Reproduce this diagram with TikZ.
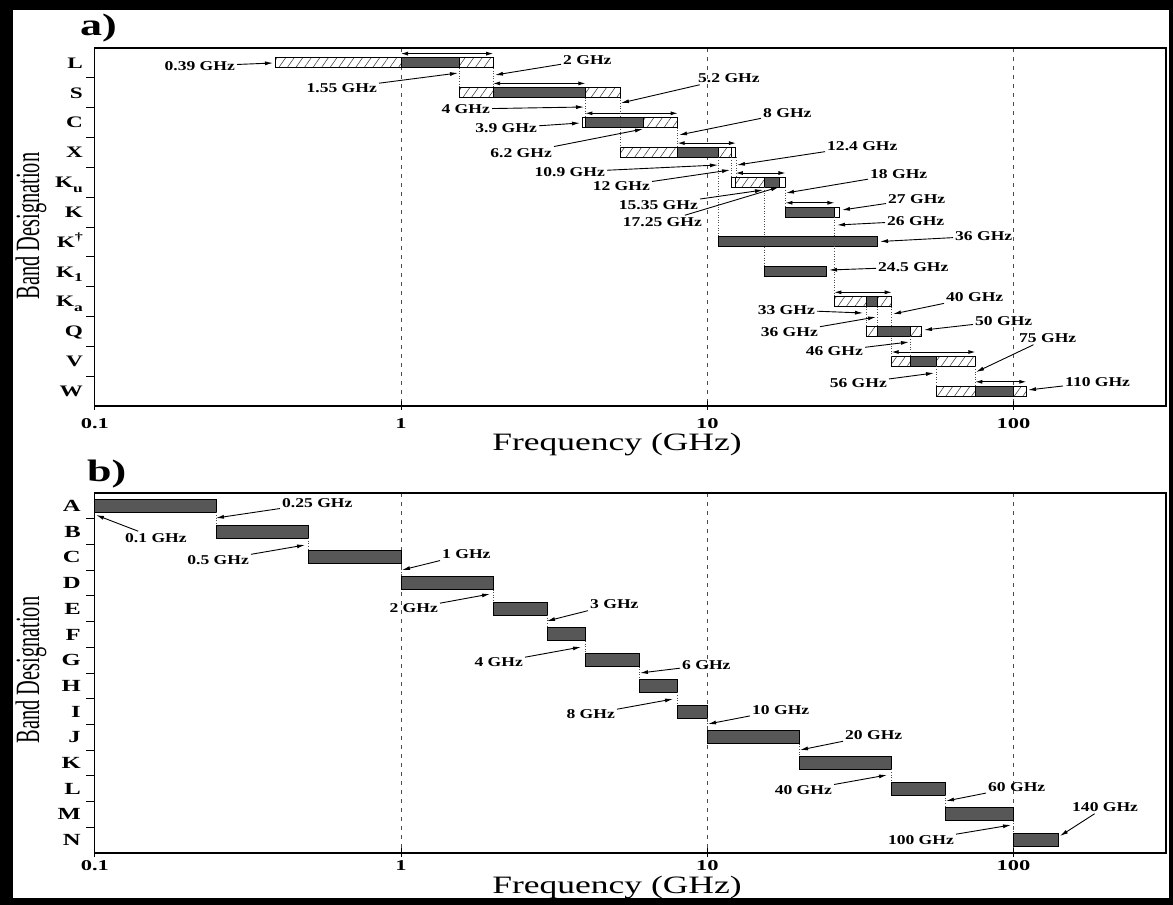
\documentclass[tikz,border=0pt]{standalone}
\usepackage{fontspec}
\setmainfont{Liberation Serif}
\newfontfamily\lblfont[FakeStretch=1.3]{Liberation Serif}
\newfontfamily\bandfont[FakeStretch=1.45]{Liberation Serif}
\newfontfamily\tickfont[FakeStretch=1.5]{Liberation Serif}
\newfontfamily\axfont[FakeStretch=1.42]{Liberation Serif}
\newfontfamily\desfont[FakeStretch=0.6]{Liberation Serif}
\usetikzlibrary{arrows.meta,patterns.meta}

\newcommand{\fq}[1]{401+306.3*log10(#1)}
\newcommand{\lsub}[1]{\raisebox{-0.3em}{\fontsize{12}{12}\selectfont #1}}
\newcommand{\lsup}[1]{\raisebox{0.45em}{\fontsize{11}{11}\selectfont #1}}

\tikzset{
  hatch/.style={draw=black, line width=1pt, pattern={Lines[angle=55,distance=7pt,line width=0.55pt]}, pattern color=black!75},
  dark/.style={draw=black, line width=1pt, fill=black!66},
  plain/.style={draw=black, line width=1pt, fill=white},
  span/.style={line width=0.9pt, {Latex[length=7pt,width=4pt]}-{Latex[length=7pt,width=4pt]}},
  link/.style={dotted, line width=0.6pt, black!70},
  gridline/.style={dash pattern=on 4pt off 5pt, line width=0.8pt, black!70},
  ptr/.style={line width=0.9pt, -{Latex[length=8pt,width=4pt]}},
  gl/.style={font=\lblfont\bfseries\fontsize{13.5}{14}\selectfont, inner sep=2pt},
  banda/.style={font=\bandfont\bfseries\fontsize{16}{17}\selectfont, inner sep=0pt, anchor=base east},
  bandb/.style={font=\bandfont\bfseries\fontsize{17}{18}\selectfont, inner sep=0pt, anchor=base east},
  ticklbl/.style={font=\tickfont\bfseries\fontsize{15}{16}\selectfont, inner sep=0pt, anchor=base},
  axlbl/.style={font=\axfont\fontsize{25}{26}\selectfont, inner sep=0pt, anchor=base},
  deslbl/.style={font=\desfont\fontsize{34}{36}\selectfont, inner sep=0pt, rotate=90},
  panel/.style={font=\axfont\bfseries\fontsize{31}{33}\selectfont, inner sep=0pt, anchor=base west}
}

\begin{document}
\begin{tikzpicture}[x=1pt,y=-1pt]
            \useasboundingbox (0,0) rectangle (1173,905);
            \fill[black] (0,0) rectangle (1173,905);
            \fill[white] (13,10) rectangle (1169,898);

            % panel a
            \foreach \f in {1,10,100} {
              \draw[gridline] ({\fq{\f}},48) -- ({\fq{\f}},406);
              \draw[line width=0.8pt] ({\fq{\f}},401) -- ({\fq{\f}},410);
            }
            \draw[line width=0.8pt] ({\fq{0.1}},406) -- ({\fq{0.1}},410);
            \foreach \y in {77.8,107.7,137.5,167.3,197.2,227.0,256.8,286.6,316.5,346.3,376.1}
              \draw[line width=0.8pt] (86,\y) -- ({\fq{0.1}},\y);
            \draw[line width=1.2pt] ({\fq{0.1}},48) rectangle (1166,406);

            \draw[hatch] ({\fq{0.39}},57.9) rectangle ({\fq{1}},67.9);
            \draw[dark] ({\fq{1}},57.9) rectangle ({\fq{1.55}},67.9);
            \draw[hatch] ({\fq{1.55}},57.9) rectangle ({\fq{2}},67.9);

            \draw[hatch] ({\fq{1.55}},87.7) rectangle ({\fq{2}},97.7);
            \draw[dark] ({\fq{2}},87.7) rectangle ({\fq{4}},97.7);
            \draw[hatch] ({\fq{4}},87.7) rectangle ({\fq{5.2}},97.7);

            \draw[plain] ({\fq{3.9}},117.6) rectangle ({\fq{4}},127.6);
            \draw[dark] ({\fq{4}},117.6) rectangle ({\fq{6.2}},127.6);
            \draw[hatch] ({\fq{6.2}},117.6) rectangle ({\fq{8}},127.6);

            \draw[hatch] ({\fq{5.2}},147.4) rectangle ({\fq{8}},157.4);
            \draw[dark] ({\fq{8}},147.4) rectangle ({\fq{10.9}},157.4);
            \draw[hatch] ({\fq{10.9}},147.4) rectangle ({\fq{12}},157.4);
            \draw[plain] ({\fq{12}},147.4) rectangle ({\fq{12.4}},157.4);

            \draw[plain] ({\fq{12}},177.3) rectangle ({\fq{12.4}},187.3);
            \draw[hatch] ({\fq{12.4}},177.3) rectangle ({\fq{15.35}},187.3);
            \draw[dark] ({\fq{15.35}},177.3) rectangle ({\fq{17.25}},187.3);
            \draw[plain] ({\fq{17.25}},177.3) rectangle ({\fq{18}},187.3);

            \draw[dark] ({\fq{18}},207.1) rectangle ({\fq{26}},217.1);
            \draw[plain] ({\fq{26}},207.1) rectangle ({\fq{27}},217.1);

            \draw[dark] ({\fq{10.9}},236.9) rectangle ({\fq{36}},246.9);

            \draw[dark] ({\fq{15.35}},266.8) rectangle ({\fq{24.5}},276.8);

            \draw[hatch] ({\fq{26}},296.6) rectangle ({\fq{33}},306.6);
            \draw[dark] ({\fq{33}},296.6) rectangle ({\fq{36}},306.6);
            \draw[hatch] ({\fq{36}},296.6) rectangle ({\fq{40}},306.6);

            \draw[hatch] ({\fq{33}},326.4) rectangle ({\fq{36}},336.4);
            \draw[dark] ({\fq{36}},326.4) rectangle ({\fq{46}},336.4);
            \draw[hatch] ({\fq{46}},326.4) rectangle ({\fq{50}},336.4);

            \draw[hatch] ({\fq{40}},356.3) rectangle ({\fq{46}},366.3);
            \draw[dark] ({\fq{46}},356.3) rectangle ({\fq{56}},366.3);
            \draw[hatch] ({\fq{56}},356.3) rectangle ({\fq{75}},366.3);

            \draw[hatch] ({\fq{56}},386.1) rectangle ({\fq{75}},396.1);
            \draw[dark] ({\fq{75}},386.1) rectangle ({\fq{100}},396.1);
            \draw[hatch] ({\fq{100}},386.1) rectangle ({\fq{110}},396.1);

            \draw[span] ({\fq{1}},53.6) -- ({\fq{2}},53.6);
            \draw[span] ({\fq{2}},83.4) -- ({\fq{4}},83.4);
            \draw[span] ({\fq{4}},113.3) -- ({\fq{8}},113.3);
            \draw[span] ({\fq{8}},143.1) -- ({\fq{12.4}},143.1);
            \draw[span] ({\fq{12.4}},173) -- ({\fq{18}},173);
            \draw[span] ({\fq{18}},202.8) -- ({\fq{26}},202.8);
            \draw[span] ({\fq{26}},292.3) -- ({\fq{40}},292.3);
            \draw[span] ({\fq{40}},352) -- ({\fq{75}},352);
            \draw[span] ({\fq{75}},381.8) -- ({\fq{110}},381.8);

            \foreach \f/\ya/\yb in {1.55/67.9/87.7, 2/67.9/87.7, 4/97.7/117.6, 5.2/97.7/147.4,
                8/127.6/147.4, 10.9/157.4/236.9, 12/157.4/177.3, 12.4/157.4/177.3,
                15.35/187.3/266.8, 18/187.3/207.1, 26/217.1/296.6, 33/306.6/326.4,
                36/306.6/326.4, 40/306.6/356.3, 46/336.4/356.3, 56/366.3/386.1, 75/366.3/386.1}
              \draw[link] ({\fq{\f}},\ya) -- ({\fq{\f}},\yb);

            \node[banda] (nL) at (83,68.2) {L};
            \node[banda] (nS) at (83,98.0) {S};
            \node[banda] (nC) at (83,127.9) {C};
            \node[banda] (nX) at (83,157.7) {X};
            \node[banda] (nKu) at (83,187.6) {K\lsub{u}};
            \node[banda] (nK) at (83,217.4) {K};
            \node[banda] (nKd) at (83,247.2) {K\lsup{\textdagger}};
            \node[banda] (nKl) at (83,277.1) {K\lsub{1}};
            \node[banda] (nKa) at (83,306.9) {K\lsub{a}};
            \node[banda] (nQ) at (83,336.7) {Q};
            \node[banda] (nV) at (83,366.6) {V};
            \node[banda] (nW) at (83,396.4) {W};

            \node[gl, anchor=east] (a1) at (237,66) {0.39 GHz};
            \node[gl, anchor=west] (a2) at (561,60) {2 GHz};
            \node[gl, anchor=east] (a3) at (379,88) {1.55 GHz};
            \node[gl, anchor=west] (a4) at (696,78) {5.2 GHz};
            \node[gl, anchor=east] (a5) at (492,109) {4 GHz};
            \node[gl, anchor=east] (a6) at (539,128) {3.9 GHz};
            \node[gl, anchor=west] (a7) at (761,113) {8 GHz};
            \node[gl, anchor=east] (a8) at (554,153) {6.2 GHz};
            \node[gl, anchor=west] (a9) at (825,146) {12.4 GHz};
            \node[gl, anchor=east] (a10) at (607,172) {10.9 GHz};
            \node[gl, anchor=east] (a11) at (652,186) {12 GHz};
            \node[gl, anchor=west] (a12) at (868,174) {18 GHz};
            \node[gl, anchor=east] (a13) at (700,205) {15.35 GHz};
            \node[gl, anchor=east] (a14) at (704,222) {17.25 GHz};
            \node[gl, anchor=west] (a15) at (886,199) {27 GHz};
            \node[gl, anchor=west] (a16) at (885,221) {26 GHz};
            \node[gl, anchor=west] (a17) at (953,236) {36 GHz};
            \node[gl, anchor=west] (a18) at (876,267) {24.5 GHz};
            \node[gl, anchor=east] (a19) at (817,310) {33 GHz};
            \node[gl, anchor=west] (a20) at (944,297) {40 GHz};
            \node[gl, anchor=east] (a21) at (820,332) {36 GHz};
            \node[gl, anchor=west] (a22) at (973,321) {50 GHz};
            \node[gl, anchor=east] (a23) at (865,351) {46 GHz};
            \node[gl, anchor=west] (a24) at (1017,338) {75 GHz};
            \node[gl, anchor=east] (a25) at (889,383) {56 GHz};
            \node[gl, anchor=west] (a26) at (1063,382) {110 GHz};

            \coordinate (ta1) at (273,63);
            \coordinate (ta2) at (495,75);
            \coordinate (ta3) at (458,73);
            \coordinate (ta4) at (621,103);
            \coordinate (ta5) at (584,107);
            \coordinate (ta6) at (580,123);
            \coordinate (ta7) at (679,135);
            \coordinate (ta8) at (643,129);
            \coordinate (ta9) at (737,165);
            \coordinate (ta10) at (718,165);
            \coordinate (ta11) at (730,170);
            \coordinate (ta12) at (786,193);
            \coordinate (ta13) at (763,190);
            \coordinate (ta14) at (779,187);
            \coordinate (ta15) at (842,210);
            \coordinate (ta16) at (837,225);
            \coordinate (ta17) at (880,241.5);
            \coordinate (ta18) at (829,270);
            \coordinate (ta19) at (863,313);
            \coordinate (ta20) at (893,314);
            \coordinate (ta21) at (876,317);
            \coordinate (ta22) at (924,330);
            \coordinate (ta23) at (909,342);
            \coordinate (ta24) at (976,372);
            \coordinate (ta25) at (934,373);
            \coordinate (ta26) at (1028,390);

            \foreach \i in {1,...,26}
              \draw[ptr] (a\i) -- (ta\i);

            \node[ticklbl] (xa0) at ({\fq{0.1}},428) {0.1};
            \node[ticklbl] (xa1) at ({\fq{1}},428) {1};
            \node[ticklbl] (xa2) at ({\fq{10}},428) {10};
            \node[ticklbl] (xa3) at ({\fq{100}},428) {100};
            \node[axlbl] (fa) at (617,450) {Frequency (GHz)};
            \node[deslbl] (da) at (31,226) {Band Designation};
            \node[panel] (pa) at (80,35) {a)};

            % panel b
            \foreach \f in {1,10,100} {
              \draw[gridline] ({\fq{\f}},493) -- ({\fq{\f}},853);
              \draw[line width=0.8pt] ({\fq{\f}},848) -- ({\fq{\f}},857);
            }
            \draw[line width=0.8pt] ({\fq{0.1}},853) -- ({\fq{0.1}},857);
            \foreach \y in {518.7,544.4,570.1,595.8,621.6,647.3,673.0,698.7,724.4,750.1,775.8,801.5,827.2}
              \draw[line width=0.8pt] (86,\y) -- ({\fq{0.1}},\y);
            \draw[line width=1.2pt] ({\fq{0.1}},493) rectangle (1166,853);

            \foreach \fa/\fb/\yt in {0.1/0.25/499.4, 0.25/0.5/525.1, 0.5/1/550.8, 1/2/576.5, 2/3/602.2,
                3/4/627.9, 4/6/653.6, 6/8/679.3, 8/10/705, 10/20/730.7, 20/40/756.4, 40/60/782.1,
                60/100/807.8, 100/140/833.5}
              \draw[dark] ({\fq{\fa}},\yt) rectangle ({\fq{\fb}},\yt+13);

            \foreach \f/\yt in {0.25/512.4, 0.5/538.1, 1/563.8, 2/589.5, 3/615.2, 4/640.9, 6/666.6,
                8/692.3, 10/718, 20/743.7, 40/769.4, 60/795.1, 100/820.8}
              \draw[link] ({\fq{\f}},\yt) -- ({\fq{\f}},\yt+12.7);

            \foreach \b [count=\i] in {A,B,C,D,E,F,G,H,I,J,K,L,M,N}
              \node[bandb] (nb\i) at (81,{493+25.71*(\i-0.5)+5.6}) {\b};

            \node[gl, anchor=west] (b1) at (123,538) {0.1 GHz};
            \node[gl, anchor=west] (b2) at (280,503) {0.25 GHz};
            \node[gl, anchor=east] (b3) at (251,560) {0.5 GHz};
            \node[gl, anchor=west] (b4) at (440,554) {1 GHz};
            \node[gl, anchor=east] (b5) at (440,608) {2 GHz};
            \node[gl, anchor=west] (b6) at (588,604) {3 GHz};
            \node[gl, anchor=east] (b7) at (525,662) {4 GHz};
            \node[gl, anchor=west] (b8) at (680,665) {6 GHz};
            \node[gl, anchor=east] (b9) at (617,714) {8 GHz};
            \node[gl, anchor=west] (b10) at (750,710) {10 GHz};
            \node[gl, anchor=west] (b11) at (843,735) {20 GHz};
            \node[gl, anchor=east] (b12) at (834,790) {40 GHz};
            \node[gl, anchor=west] (b13) at (986,787) {60 GHz};
            \node[gl, anchor=east] (b14) at (956,840) {100 GHz};
            \node[gl, anchor=west] (b15) at (1070,807) {140 GHz};

            \coordinate (tb1) at (96,515);
            \coordinate (tb2) at (216,518);
            \coordinate (tb3) at (305,545);
            \coordinate (tb4) at (402,570);
            \coordinate (tb5) at (490,594);
            \coordinate (tb6) at (547,621);
            \coordinate (tb7) at (581,647);
            \coordinate (tb8) at (640,673);
            \coordinate (tb9) at (673,699);
            \coordinate (tb10) at (708,724);
            \coordinate (tb11) at (800,750);
            \coordinate (tb12) at (887,775);
            \coordinate (tb13) at (946,801);
            \coordinate (tb14) at (1011,825);
            \coordinate (tb15) at (1060,836);

            \foreach \i in {1,...,15}
              \draw[ptr] (b\i) -- (tb\i);

            \node[ticklbl] (xb0) at ({\fq{0.1}},870) {0.1};
            \node[ticklbl] (xb1) at ({\fq{1}},870) {1};
            \node[ticklbl] (xb2) at ({\fq{10}},870) {10};
            \node[ticklbl] (xb3) at ({\fq{100}},870) {100};
            \node[axlbl] (fb) at (617,893) {Frequency (GHz)};
            \node[deslbl] (db) at (31,670) {Band Designation};
            \node[panel] (pb) at (87,481) {b)};
        \end{tikzpicture}
\end{document}
